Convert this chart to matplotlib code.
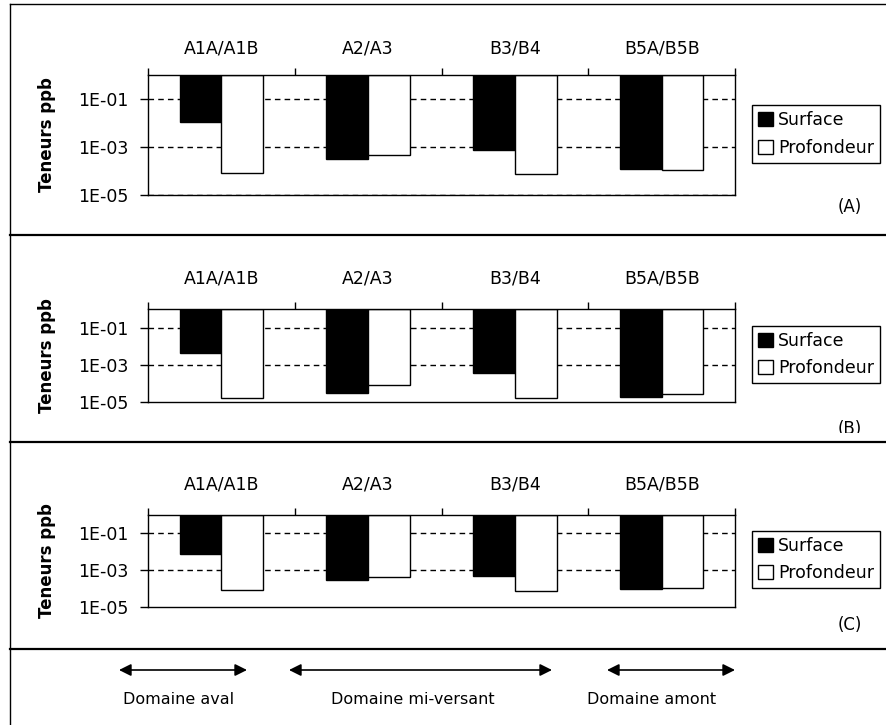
import matplotlib
matplotlib.use("Agg")
import matplotlib.pyplot as plt
import numpy as np
from matplotlib.lines import Line2D
from matplotlib.patches import Patch, FancyArrowPatch
from matplotlib.ticker import FuncFormatter, FixedLocator, NullLocator
from matplotlib.transforms import Bbox, TransformedBbox

plt.rcParams["font.family"] = ["DejaVu Sans"]

# values (ppb, log scale)
categories = ["A1A/A1B", "A2/A3", "B3/B4", "B5A/B5B"]
series = ["Surface", "Profondeur"]
surface_a = [1.1e-2, 3.3e-4, 7.5e-4, 1.2e-4]
profondeur_a = [7.9e-5, 4.6e-4, 7.3e-5, 1.07e-4]
surface_b = [4.2e-3, 2.9e-5, 3.5e-4, 1.8e-5]
profondeur_b = [1.5e-5, 8.4e-5, 1.5e-5, 2.6e-5]
surface_c = [7.3e-3, 2.9e-4, 5.0e-4, 9.5e-5]
profondeur_c = [8.1e-5, 4.4e-4, 6.8e-5, 1.1e-4]
panel_tags = ["(A)", "(B)", "(C)"]
domains = ["Domaine aval", "Domaine mi-versant", "Domaine amont"]

W, H = 886, 725
fig = plt.figure(figsize=(W / 100, H / 100), dpi=100)


def fx(px):
    return px / W


def fy(py):
    return 1 - py / H


# axes boxes in pixels: left, right, top, bottom
boxes = [(148, 735, 75, 195), (148, 735, 309.3, 401.7), (148, 735, 515, 606.7)]
label_pads = [12.5, 15.5, 15.5]
legend_tops = [105, 325.7, 530.7]
tag_y = [207, 429, 625]
data = [(surface_a, profondeur_a), (surface_b, profondeur_b), (surface_c, profondeur_c)]

x = np.arange(len(categories))
w = 0.285

for i, (l, r, t, b) in enumerate(boxes):
    ax = fig.add_axes([fx(l), fy(b), fx(r - l), (b - t) / H])
    surf, prof = data[i]
    ax.set_yscale("log")
    ax.set_ylim(1e-5, 1)
    ax.set_xlim(-0.5, len(categories) - 0.5)

    grid = [1e-1, 1e-3] + ([1e-5] if i == 0 else [])
    for g in grid:
        ax.axhline(g, color="black", lw=1, ls=(0, (4, 3)), zorder=3 if g == 1e-5 else 1)

    # bars hang from the top of the axis down to the value
    s = np.array(surf)
    p = np.array(prof)
    ax.bar(x - w / 2, 1 - s, bottom=s, width=w, color="black",
           edgecolor="black", lw=1, zorder=2)
    ax.bar(x + w / 2, 1 - p, bottom=p, width=w, color="white",
           edgecolor="black", lw=1, zorder=2)

    ax.xaxis.tick_top()
    ax.set_xticks(x, categories, fontsize=12.5)
    ax.tick_params(axis="x", which="major", length=0, pad=label_pads[i])
    ax.xaxis.set_minor_locator(FixedLocator(np.arange(-0.5, len(categories), 1.0)))
    ax.tick_params(axis="x", which="minor", length=5, width=1, direction="out", top=True, bottom=False)

    ax.yaxis.set_major_locator(FixedLocator([1e-1, 1e-3, 1e-5]))
    ax.yaxis.set_minor_locator(NullLocator())
    ax.yaxis.set_major_formatter(FuncFormatter(lambda v, pos: f"{v:.0E}"))
    ax.tick_params(axis="y", length=6, width=1, pad=8, labelsize=12.5)

    ax.set_ylabel("Teneurs ppb", fontsize=12, fontweight="bold")
    ax.yaxis.set_label_coords((56 - l) / (r - l), 0.5)

    for sp in ax.spines.values():
        sp.set_linewidth(1)
        sp.set_color("black")

    handles = [Patch(facecolor="black", edgecolor="black", label=series[0]),
               Patch(facecolor="white", edgecolor="black", label=series[1])]
    leg = ax.legend(handles=handles, loc="upper left",
                    bbox_to_anchor=(fx(752), fy(legend_tops[i])),
                    bbox_transform=fig.transFigure, borderaxespad=0,
                    fontsize=12.5, handlelength=0.85, handleheight=0.85,
                    handletextpad=0.3, borderpad=0.35, labelspacing=0.55,
                    fancybox=False, framealpha=1, edgecolor="black")
    leg.get_frame().set_linewidth(1)

    tag = fig.text(fx(850), fy(tag_y[i]), panel_tags[i], ha="center", va="center", fontsize=12)
    if i == 1:
        # the (B) tag is cut by the next panel in the original
        clip = TransformedBbox(Bbox([[fx(800), fy(433)], [1.0, fy(400)]]), fig.transFigure)
        tag.set_clip_box(clip)
        tag.set_clip_on(True)

# panel frames
frame_kw = dict(color="black", transform=fig.transFigure)
fig.add_artist(Line2D([fx(10), 1], [fy(4), fy(4)], lw=1, **frame_kw))
fig.add_artist(Line2D([fx(10), fx(10)], [fy(4), 0], lw=1, **frame_kw))
for yy in [235, 442, 649]:
    fig.add_artist(Line2D([fx(10), 1], [fy(yy), fy(yy)], lw=1.6, **frame_kw))

# domain arrows
arrow_spans = [(119, 247), (289, 552), (607, 735)]
text_centers = [179, 413, 652]
for (x0, x1), xc, name in zip(arrow_spans, text_centers, domains):
    fig.add_artist(FancyArrowPatch(
        (fx(x0), fy(670)), (fx(x1), fy(670)), transform=fig.transFigure,
        arrowstyle="<|-|>", mutation_scale=18, color="black", lw=1.2,
        shrinkA=0, shrinkB=0))
    fig.text(fx(xc), fy(700), name, ha="center", va="center", fontsize=11.5)

fig.savefig("out.png", dpi=100, facecolor="white")
